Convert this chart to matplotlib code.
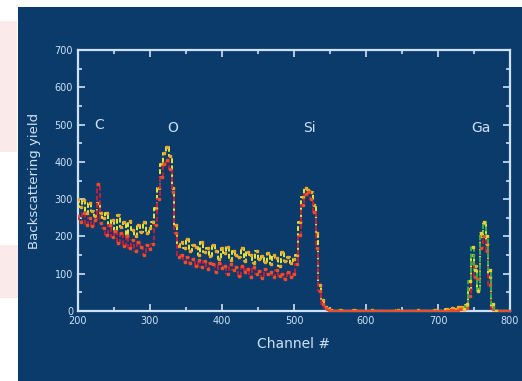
import numpy as np
import matplotlib
matplotlib.use("Agg")
import matplotlib.pyplot as plt
from matplotlib.patches import Rectangle

plt.rcParams['font.family'] = ['DejaVu Sans']

# channel axis, 4-channel bins from 200 to 800
channels = np.arange(200, 801, 4)

yellow = [
    300, 280, 298, 262, 290, 268, 255,                # 200-224
    290, 262,                                         # 228-232
    250, 262, 232, 245, 215, 258, 225, 238, 205, 242,
    218, 200, 232, 212, 240, 208, 222,                # 236-300
    240, 275,                                         # 304-308
    330, 395, 425, 440, 415, 330, 230,                # 312-336
    175,                                              # 340
    185, 168, 192, 160, 178, 172, 150, 185, 158, 170,
    148, 176, 162, 140, 168, 155, 172, 138, 160, 150,
    145, 168, 135, 158, 150, 128, 162, 140, 148, 132,
    155, 125, 150, 142, 120, 158, 135, 145, 128, 140,  # 344-500
    150, 240, 305, 330, 325, 320, 285, 210, 70, 30, 12, 5, 2,  # 504-552
    0, 0, 2, 0, 0, 0, 0, 3, 0, 0, 0, 0, 0, 2, 0, 0, 0, 0, 0, 0,
    0, 0, 3, 0, 0, 0, 0, 0, 0, 2, 0, 0, 0, 0, 0, 3, 0, 0, 0, 5,
    3, 8, 5, 10, 12,                                  # 556-732
    10, 15, 60, 150, 120, 60, 200, 235, 180, 90, 10,  # 736-776
    0, 0, 0, 0, 0, 0,                                 # 780-800
]

red = [
    255, 240, 262, 232, 250, 228, 245,
    340, 235,
    222, 205, 232, 198, 215, 182, 208, 175, 200, 168,
    190, 160, 185, 172, 150, 178, 165,
    180, 230,
    300, 360, 395, 405, 380, 320, 210,
    145,
    150, 132, 145, 128, 140, 122, 138, 118, 135, 112,
    130, 125, 105, 128, 115, 120, 98, 125, 110, 118,
    95, 120, 105, 112, 92, 118, 100, 108, 88, 112,
    98, 104, 90, 110, 95, 100, 86, 105, 92, 98,
    125, 205, 285, 315, 318, 300, 265, 170, 55, 20, 8, 3, 0,
    0, 0, 0, 0, 0, 0, 0, 0, 0, 0, 0, 0, 0, 0, 0, 0, 0, 0, 0, 0,
    0, 0, 0, 0, 0, 0, 0, 0, 0, 0, 0, 0, 0, 0, 0, 0, 0, 0, 0, 0,
    0, 2, 0, 3, 5,
    5, 8, 40, 130, 90, 85, 170, 200, 160, 70, 5,
    0, 0, 0, 0, 0, 0,
]

ga_channels = [736, 740, 744, 748, 752, 756, 760, 764, 768, 772, 776, 780]
green = [5, 20, 80, 172, 110, 55, 210, 240, 200, 110, 20, 0]

peak_labels = ['C', 'O', 'Si', 'Ga']
peak_x = [230, 332, 522, 760]
peak_y = [500, 490, 490, 490]

navy = '#0b3b6b'
light = '#cfe2f5'

fig = plt.figure(figsize=(5.22, 3.81), dpi=100, facecolor='white')
for rect in [(0, 0.60, 0.033, 0.345), (0, 0.218, 0.035, 0.14)]:
    fig.patches.append(Rectangle(rect[:2], rect[2], rect[3], transform=fig.transFigure,
                                 facecolor='#fbeaea', edgecolor='none', zorder=-2))
fig.patches.append(Rectangle((0.0345, 0), 0.9655, 0.9816, transform=fig.transFigure,
                             facecolor=navy, edgecolor='none', zorder=-1))

ax = fig.add_axes([0.1494, 0.1837, 0.8276, 0.685])
ax.set_facecolor(navy)

dash = (0, (2.5, 1.2))
ax.plot(channels, yellow, color='#e6e838', lw=1.4, ls=dash, drawstyle='steps-mid',
        marker='s', ms=2, mfc='#f2a628', mec='#f2a628', zorder=3)
ax.plot(channels, red, color='#c41e3a', lw=1.4, ls=dash, drawstyle='steps-mid',
        marker='s', ms=2, mfc='#e8502a', mec='#e8502a', zorder=4)
ax.plot(ga_channels, green, color='#2fb04a', lw=1.4, ls=dash, drawstyle='steps-mid',
        marker='s', ms=2, mfc='#e8d030', mec='#e8d030', zorder=5)

for lab, x, y in zip(peak_labels, peak_x, peak_y):
    ax.text(x, y, lab, color=light, fontsize=10, ha='center', va='center')

ax.set_xlim(200, 800)
ax.set_ylim(0, 700)
ax.set_xticks(range(200, 801, 100))
ax.set_yticks(range(0, 701, 100))
ax.set_xticks(range(250, 800, 100), minor=True)
ax.set_yticks(range(50, 700, 100), minor=True)
ax.tick_params(which='both', direction='in', top=True, right=True,
               colors=light, labelsize=7, width=1.2)
ax.tick_params(which='major', length=5)
ax.tick_params(which='minor', length=3)
for s in ax.spines.values():
    s.set_color(light)
    s.set_linewidth(1.6)

ax.set_xlabel('Channel #', color=light, fontsize=10, labelpad=8)
ax.set_ylabel('Backscattering yield', color=light, fontsize=9.5, labelpad=10)

fig.savefig('out.png', dpi=100, facecolor=fig.get_facecolor())
